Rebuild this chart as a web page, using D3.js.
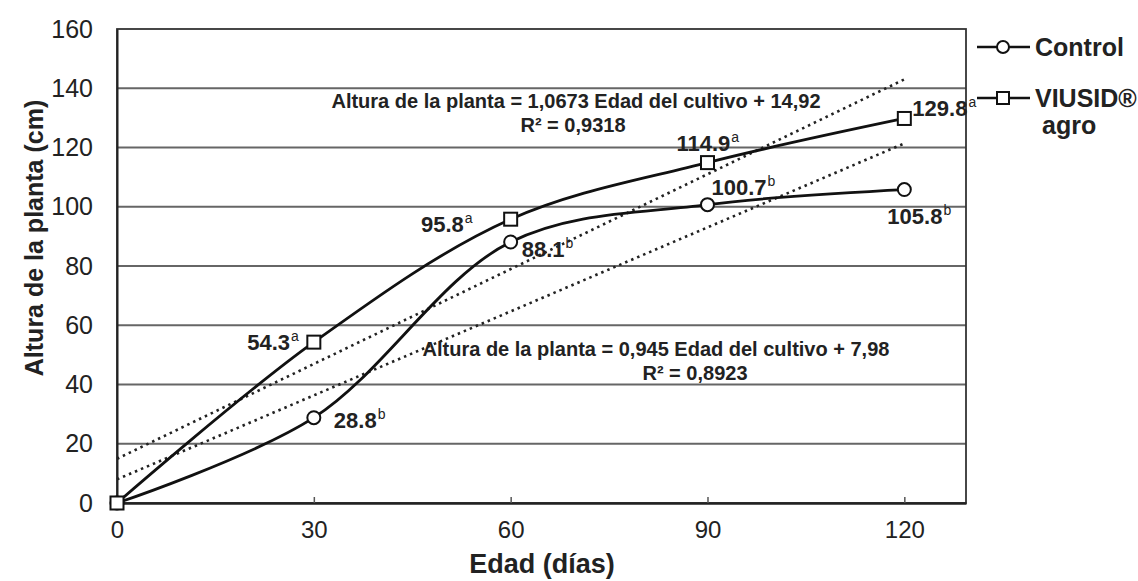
<!DOCTYPE html>
<html>
<head>
<meta charset="utf-8">
<script src="https://cdn.jsdelivr.net/npm/d3@7"></script>
<style>
  body { margin: 0; background: #fff; }
  svg { font-family: "Liberation Sans", Arial, sans-serif; }
</style>
</head>
<body>
<svg id="chart" width="1138" height="581"></svg>
<script>
// datos
var dias = [0, 30, 60, 90, 120];
var control = [0, 28.8, 88.1, 100.7, 105.8];
var viusid = [0, 54.3, 95.8, 114.9, 129.8];
var letrasControl = ['', 'b', 'b', 'b', 'b'];
var letrasViusid = ['', 'a', 'a', 'a', 'a'];
var yTicks = [0, 20, 40, 60, 80, 100, 120, 140, 160];
var xTicks = [0, 30, 60, 90, 120];
// tendencias lineales (pendiente, intercepto)
var tendViusid = [1.0673, 14.92];
var tendControl = [0.945, 7.98];

var svg = d3.select('#chart');
var x = d3.scaleLinear().domain([0, 129.4]).range([117, 966]);
var y = d3.scaleLinear().domain([0, 160]).range([503, 29]);
var fuente = '"Liberation Sans", Arial, sans-serif';

// lineas de cuadricula
svg.append('g').selectAll('line')
    .data(yTicks.slice(1, -1))
    .enter().append('line')
    .attr('x1', x(0)).attr('x2', x.range()[1])
    .attr('y1', function (d) { return y(d); })
    .attr('y2', function (d) { return y(d); })
    .attr('stroke', '#666').attr('stroke-width', 1.8);

// marco
svg.append('rect')
    .attr('x', x(0)).attr('y', y(160))
    .attr('width', x.range()[1] - x(0)).attr('height', y(0) - y(160))
    .attr('fill', 'none').attr('stroke', '#333').attr('stroke-width', 1.8);

// eje x
var xAxis = svg.append('g')
    .attr('transform', 'translate(0,' + y(0) + ')')
    .call(d3.axisBottom(x).tickValues(xTicks).tickSizeInner(-6).tickSizeOuter(0).tickPadding(18));
xAxis.select('.domain').attr('stroke', '#222').attr('stroke-width', 2.5);
xAxis.selectAll('.tick line').attr('stroke', '#555').attr('stroke-width', 1.5);
xAxis.selectAll('.tick text')
    .attr('font-size', 24).attr('fill', '#222').attr('font-family', fuente);

// eje y
var yAxis = svg.append('g')
    .attr('transform', 'translate(' + x(0) + ',0)')
    .call(d3.axisLeft(y).tickValues(yTicks).tickSize(0).tickPadding(24));
yAxis.select('.domain').attr('stroke', '#222').attr('stroke-width', 2);
yAxis.selectAll('.tick text')
    .attr('font-size', 25).attr('fill', '#222').attr('font-family', fuente);

// titulos de ejes
svg.append('text')
    .attr('x', 542).attr('y', 573)
    .attr('text-anchor', 'middle')
    .attr('font-size', 27).attr('font-weight', 'bold').attr('fill', '#222')
    .text('Edad (días)');
svg.append('text')
    .attr('transform', 'translate(43,238) rotate(-90)')
    .attr('text-anchor', 'middle')
    .attr('font-size', 25).attr('font-weight', 'bold').attr('fill', '#222')
    .text('Altura de la planta (cm)');

// lineas de tendencia punteadas
function tendencia(t) {
    return [[0, t[1]], [120, t[0] * 120 + t[1]]];
}
[tendViusid, tendControl].forEach(function (t) {
    svg.append('path')
        .attr('d', d3.line().x(function (d) { return x(d[0]); }).y(function (d) { return y(d[1]); })(tendencia(t)))
        .attr('fill', 'none').attr('stroke', '#222')
        .attr('stroke-width', 2.6).attr('stroke-dasharray', '2.5,4');
});

// curvas suavizadas
var linea = d3.line()
    .x(function (d, i) { return x(dias[i]); })
    .y(function (d) { return y(d); })
    .curve(d3.curveCatmullRom.alpha(0.5));
[control, viusid].forEach(function (serie) {
    svg.append('path')
        .attr('d', linea(serie))
        .attr('fill', 'none').attr('stroke', '#111').attr('stroke-width', 2.8);
});

// marcadores
svg.append('g').selectAll('circle')
    .data(control).enter().append('circle')
    .attr('cx', function (d, i) { return x(dias[i]); })
    .attr('cy', function (d) { return y(d); })
    .attr('r', 6.5)
    .attr('fill', '#fff').attr('stroke', '#111').attr('stroke-width', 2);
svg.append('g').selectAll('rect')
    .data(viusid).enter().append('rect')
    .attr('x', function (d, i) { return x(dias[i]) - 6.5; })
    .attr('y', function (d) { return y(d) - 6.5; })
    .attr('width', 13).attr('height', 13)
    .attr('fill', '#fff').attr('stroke', '#111').attr('stroke-width', 2);

// etiquetas de datos: desplazamientos [dx, dy, anchor]
var posViusid = [null, [-15, 8, 'end'], [-38, 13, 'end'], [-31, -12, 'start'], [8, -2, 'start']];
var posControl = [null, [20, 10, 'start'], [11, 15, 'start'], [4, -10, 'start'], [-17, 34, 'start']];
function etiquetas(serie, letras, pos) {
    serie.forEach(function (v, i) {
        if (!pos[i]) return;
        var t = svg.append('text')
            .attr('x', x(dias[i]) + pos[i][0])
            .attr('y', y(v) + pos[i][1])
            .attr('text-anchor', pos[i][2])
            .attr('font-size', 22).attr('font-weight', 'bold').attr('fill', '#222');
        t.append('tspan').text(v.toFixed(1));
        t.append('tspan').attr('dy', -9).attr('dx', 1).attr('font-size', 14).attr('font-weight', 'normal').text(letras[i]);
    });
}
etiquetas(viusid, letrasViusid, posViusid);
etiquetas(control, letrasControl, posControl);

// ecuaciones
function ecuacion(linea1, linea2, cx1, cy1, cx2, cy2) {
    svg.append('text').attr('x', cx1).attr('y', cy1)
        .attr('text-anchor', 'middle').attr('font-size', 20).attr('font-weight', 'bold').attr('fill', '#222')
        .text(linea1);
    svg.append('text').attr('x', cx2).attr('y', cy2)
        .attr('text-anchor', 'middle').attr('font-size', 20).attr('font-weight', 'bold').attr('fill', '#222')
        .text(linea2);
}
ecuacion('Altura de la planta = 1,0673 Edad del cultivo + 14,92', 'R² = 0,9318', 576, 108, 573, 132);
ecuacion('Altura de la planta = 0,945 Edad del cultivo + 7,98', 'R² = 0,8923', 656, 356, 695, 380);

// leyenda
var leyenda = svg.append('g');
[[47, 'circle', ['Control']], [98, 'rect', ['VIUSID®', 'agro']]].forEach(function (e) {
    leyenda.append('line').attr('x1', 977).attr('x2', 1030)
        .attr('y1', e[0]).attr('y2', e[0])
        .attr('stroke', '#111').attr('stroke-width', 2.6);
    if (e[1] === 'circle') {
        leyenda.append('circle').attr('cx', 1003).attr('cy', e[0]).attr('r', 6)
            .attr('fill', '#fff').attr('stroke', '#111').attr('stroke-width', 2);
    } else {
        leyenda.append('rect').attr('x', 997).attr('y', e[0] - 6).attr('width', 12).attr('height', 12)
            .attr('fill', '#fff').attr('stroke', '#111').attr('stroke-width', 2);
    }
    e[2].forEach(function (s, k) {
        leyenda.append('text')
            .attr('x', k === 0 ? 1035 : 1042).attr('y', e[0] + 9 + k * 27)
            .attr('font-size', 25).attr('font-weight', 'bold').attr('fill', '#222')
            .text(s);
    });
});
</script>
</body>
</html>
